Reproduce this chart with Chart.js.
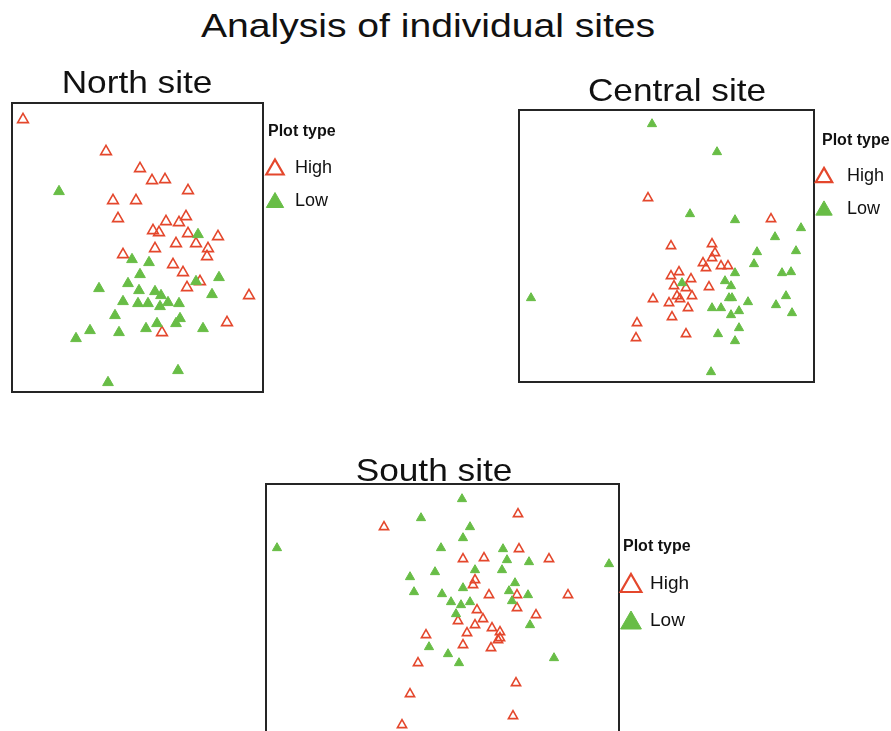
<!DOCTYPE html>
<html>
<head>
<meta charset="utf-8">
<script src="https://cdn.jsdelivr.net/npm/chart.js@4.4.1/dist/chart.umd.min.js"></script>
<style>
  html, body { margin: 0; padding: 0; background: #fff; width: 891px; height: 731px; overflow: hidden; }
  canvas { position: absolute; left: 0; top: 0; }
  #mainTitle {
    position: absolute; left: 0; top: 8px; width: 856px; text-align: center;
    font: 34px "Liberation Sans", Arial, sans-serif; line-height: 34px; color: #111;
    transform: scaleX(1.15); transform-origin: 428px 0;
  }
</style>
</head>
<body>
<div id="mainTitle">Analysis of individual sites</div>
<canvas id="north" width="891" height="731"></canvas>
<canvas id="central" width="891" height="731"></canvas>
<canvas id="south" width="891" height="800"></canvas>
<script>
// Ordination scores per site, split by plot type
const northHighX = [-1.15, -0.32, 0.02, 0.14, 0.27, 0.50, -0.25, -0.02, -0.20, 0.48, 0.28, 0.41, 0.15, 0.21, 0.50, 0.80, 0.38, 0.58, 0.70, 0.17, 0.69, -0.15, 0.35, 0.45, 0.62, 0.49, 1.11, 0.89, 0.24];
const northHighY = [1.30, 0.98, 0.81, 0.69, 0.70, 0.59, 0.49, 0.49, 0.31, 0.33, 0.28, 0.27, 0.19, 0.17, 0.16, 0.13, 0.06, 0.06, 0.01, 0.01, -0.07, -0.05, -0.15, -0.23, -0.32, -0.38, -0.46, -0.73, -0.83];
const northLowX = [-0.79, 0.60, -0.06, 0.11, 0.02, 0.81, 0.58, -0.10, -0.39, 0.01, 0.17, 0.23, 0.74, -0.15, 0.00, 0.10, 0.22, 0.30, 0.41, -0.23, 0.42, 0.38, 0.19, 0.08, 0.65, -0.19, -0.48, -0.62, 0.40, -0.30];
const northLowY = [0.58, 0.15, -0.10, -0.13, -0.25, -0.28, -0.32, -0.34, -0.39, -0.41, -0.42, -0.46, -0.45, -0.52, -0.54, -0.54, -0.57, -0.53, -0.54, -0.66, -0.69, -0.74, -0.74, -0.79, -0.79, -0.83, -0.81, -0.89, -1.21, -1.33];

const centralHighX = [-0.18, 1.05, 0.05, 0.46, 0.49, 0.46, 0.37, 0.40, 0.55, 0.62, 0.13, 0.05, 0.25, 0.08, 0.20, 0.43, 0.11, 0.26, -0.13, 0.03, 0.14, 0.22, 0.06, -0.29, 0.20, -0.30];
const centralHighY = [0.49, 0.28, 0.01, 0.03, -0.06, -0.11, -0.16, -0.21, -0.19, -0.19, -0.25, -0.29, -0.32, -0.39, -0.41, -0.40, -0.49, -0.49, -0.52, -0.56, -0.52, -0.61, -0.70, -0.76, -0.87, -0.91];
const centralLowX = [-0.14, 0.51, 0.24, 0.69, 1.35, 1.09, 0.91, 1.30, 0.88, 0.69, 1.16, 1.25, 0.16, 0.59, 0.65, 0.63, 0.66, 1.20, 0.46, 0.55, 0.82, 0.73, 1.10, 1.26, 0.65, 0.73, 0.52, 0.69, -1.35, 0.45];
const centralLowY = [1.23, 0.95, 0.33, 0.27, 0.19, 0.10, -0.05, -0.04, -0.17, -0.26, -0.26, -0.25, -0.36, -0.34, -0.39, -0.51, -0.51, -0.49, -0.61, -0.61, -0.55, -0.64, -0.58, -0.66, -0.68, -0.81, -0.87, -0.94, -0.51, -1.25];

const southHighX = [-0.59, 0.75, 0.76, 0.20, 0.41, 1.06, 0.32, 0.30, 0.46, 0.74, 1.25, 0.74, 0.34, 0.93, 0.40, 0.15, 0.32, 0.49, 0.57, 0.24, -0.17, 0.57, 0.55, 0.20, 0.48, -0.25, 0.73, -0.33, 0.70, -0.41];
const southHighY = [0.74, 0.87, 0.52, 0.42, 0.43, 0.42, 0.21, 0.16, 0.06, 0.06, 0.06, -0.07, -0.09, -0.14, -0.18, -0.20, -0.24, -0.27, -0.31, -0.32, -0.34, -0.37, -0.39, -0.44, -0.47, -0.62, -0.82, -0.93, -1.15, -1.24];
const southLowX = [0.19, -0.22, 0.27, 0.20, -0.02, 0.60, -1.66, 0.64, 0.86, 1.66, 0.32, 0.59, -0.08, -0.33, 0.72, 0.20, 0.66, -0.29, -0.01, 0.85, 0.69, 0.08, 0.27, 0.18, 0.13, 0.87, -0.14, 0.05, 0.16, 1.11];
const southLowY = [1.02, 0.83, 0.74, 0.63, 0.53, 0.52, 0.53, 0.41, 0.39, 0.37, 0.31, 0.31, 0.29, 0.24, 0.18, 0.13, 0.10, 0.09, 0.07, 0.06, 0.00, -0.01, -0.01, -0.04, -0.13, -0.24, -0.46, -0.53, -0.62, -0.57];

const seriesLabels = ['High', 'Low'];
const legendHeading = 'Plot type';

const RED = '#e4472c';
const GREEN = '#68bd46';
const FONT = '"Liberation Sans", Arial, sans-serif';

function pts(xs, ys) { return xs.map((x, i) => ({ x, y: ys[i] })); }

// Frame around the plotting area, panel heading and the "Plot type" key
const panelDecor = {
  id: 'panelDecor',
  afterDatasetsDraw(chart, args, o) {
    const { ctx, chartArea: a } = chart;
    ctx.save();
    ctx.lineWidth = 2;
    ctx.strokeStyle = '#252525';
    ctx.strokeRect(a.left, a.top, a.right - a.left, a.bottom - a.top);

    // panel heading, slightly widened type
    ctx.fillStyle = '#111';
    ctx.font = '30.5px ' + FONT;
    ctx.textAlign = 'center';
    ctx.textBaseline = 'alphabetic';
    ctx.save();
    ctx.translate(o.titleX, o.titleBaseline);
    ctx.scale(1.155, 1);
    ctx.fillText(o.title, 0, 0);
    ctx.restore();

    const L = o.legend;
    const lx = a.right, ly = a.top;
    ctx.textAlign = 'left';
    ctx.textBaseline = 'middle';
    ctx.font = 'bold ' + L.headSize + 'px ' + FONT;
    ctx.fillText(legendHeading, lx + L.headDx, ly + L.headDy);

    const styles = [
      { fill: 'rgba(0,0,0,0)', stroke: RED, bw: 2.2 },
      { fill: GREEN, stroke: GREEN, bw: 1 }
    ];
    ctx.font = L.textSize + 'px ' + FONT;
    seriesLabels.forEach((lab, i) => {
      const cy = ly + L.rows[i];
      ctx.fillStyle = styles[i].fill;
      ctx.strokeStyle = styles[i].stroke;
      ctx.lineWidth = styles[i].bw;
      Chart.helpers.drawPoint(ctx, { pointStyle: 'triangle', radius: L.triR, borderWidth: styles[i].bw, rotation: 0 },
        lx + L.triDx, cy + L.triR / 4);
      ctx.fillStyle = '#111';
      ctx.fillText(lab, lx + L.textDx, cy + 1);
    });
    ctx.restore();
  }
};

function makePanel(id, cfg) {
  const cv = document.getElementById(id);
  const W = cv.width, H = cv.height;
  new Chart(cv, {
    type: 'scatter',
    data: {
      datasets: [
        {
          label: seriesLabels[0], data: pts(cfg.highX, cfg.highY), order: 2,
          pointStyle: 'triangle', pointRadius: cfg.r, pointBorderWidth: 1.6,
          pointBackgroundColor: 'rgba(0,0,0,0)', pointBorderColor: RED
        },
        {
          label: seriesLabels[1], data: pts(cfg.lowX, cfg.lowY), order: 1,
          pointStyle: 'triangle', pointRadius: cfg.r, pointBorderWidth: 1,
          pointBackgroundColor: GREEN, pointBorderColor: GREEN
        }
      ]
    },
    options: {
      responsive: false,
      animation: false,
      events: [],
      layout: { padding: { left: cfg.box.l, top: cfg.box.t, right: W - cfg.box.r, bottom: H - cfg.box.b } },
      scales: {
        x: { type: 'linear', display: false, min: cfg.xr[0], max: cfg.xr[1] },
        y: { type: 'linear', display: false, min: cfg.yr[0], max: cfg.yr[1] }
      },
      plugins: {
        legend: { display: false },
        tooltip: { enabled: false },
        panelDecor: { title: cfg.title, titleX: cfg.titleX, titleBaseline: cfg.titleBaseline, legend: cfg.legend }
      }
    },
    plugins: [panelDecor]
  });
}

makePanel('north', {
  highX: northHighX, highY: northHighY, lowX: northLowX, lowY: northLowY,
  box: { l: 12, t: 103, r: 263, b: 392 }, xr: [-1.26, 1.25], yr: [-1.425, 1.465], r: 6.2,
  title: 'North site', titleX: 137, titleBaseline: 93,
  legend: { headDx: 5, headDy: 29, headSize: 16, textSize: 18, triDx: 12, textDx: 32, triR: 10, rows: [64, 97] }
});
makePanel('central', {
  highX: centralHighX, highY: centralHighY, lowX: centralLowX, lowY: centralLowY,
  box: { l: 519, t: 110, r: 814, b: 382 }, xr: [-1.47, 1.48], yr: [-1.35, 1.37], r: 5.3,
  title: 'Central site', titleX: 677, titleBaseline: 101,
  legend: { headDx: 8, headDy: 31, headSize: 16, textSize: 18, triDx: 10, textDx: 33, triR: 9.5, rows: [65, 98] }
});
makePanel('south', {
  highX: southHighX, highY: southHighY, lowX: southLowX, lowY: southLowY,
  box: { l: 266, t: 484, r: 619, b: 760 }, xr: [-1.77, 1.76], yr: [-1.59, 1.17], r: 5.3,
  title: 'South site', titleX: 434, titleBaseline: 481,
  legend: { headDx: 4, headDy: 63, headSize: 16, textSize: 19, triDx: 12, textDx: 31, triR: 12, rows: [99, 136] }
});
</script>
</body>
</html>
